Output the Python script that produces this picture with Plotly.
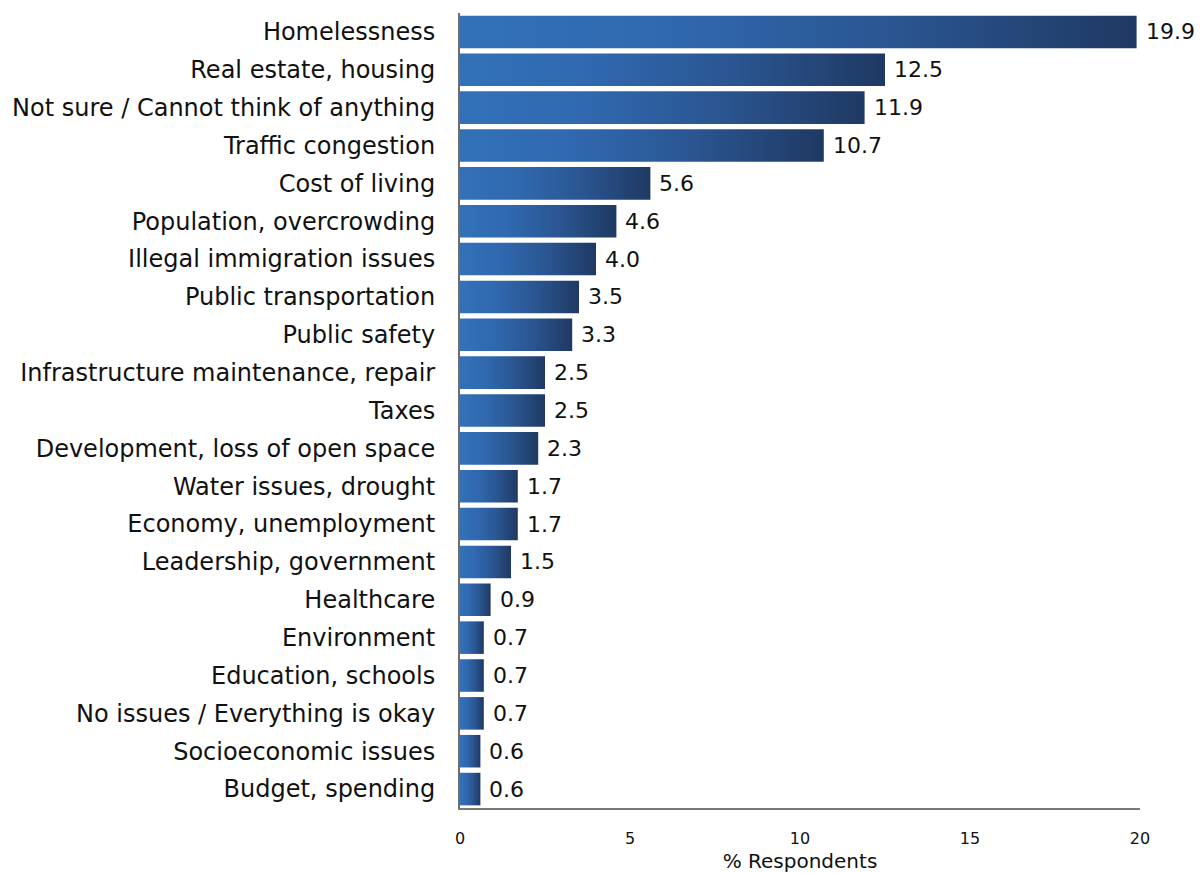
import plotly.graph_objects as go

# Survey: most important issue facing the community
categories = [
    "Homelessness",
    "Real estate, housing",
    "Not sure / Cannot think of anything",
    "Traffic congestion",
    "Cost of living",
    "Population, overcrowding",
    "Illegal immigration issues",
    "Public transportation",
    "Public safety",
    "Infrastructure maintenance, repair",
    "Taxes",
    "Development, loss of open space",
    "Water issues, drought",
    "Economy, unemployment",
    "Leadership, government",
    "Healthcare",
    "Environment",
    "Education, schools",
    "No issues / Everything is okay",
    "Socioeconomic issues",
    "Budget, spending",
]
percents = [19.9, 12.5, 11.9, 10.7, 5.6, 4.6, 4.0, 3.5, 3.3, 2.5, 2.5,
            2.3, 1.7, 1.7, 1.5, 0.9, 0.7, 0.7, 0.7, 0.6, 0.6]
x_ticks = [0, 5, 10, 15, 20]

FONT = "DejaVu Sans"
BAR_HALF = 0.43
gradient = [[0.0, "#3271b8"], [0.3, "#3069b0"], [0.65, "#2a5590"], [1.0, "#1f3963"]]

fig = go.Figure()

# each bar is a filled rectangle with a left-to-right gradient
for i, v in enumerate(percents):
    fig.add_trace(go.Scatter(
        x=[0, v, v, 0, 0],
        y=[i - BAR_HALF, i - BAR_HALF, i + BAR_HALF, i + BAR_HALF, i - BAR_HALF],
        mode="lines",
        line=dict(width=0, color="rgba(0,0,0,0)"),
        fill="toself",
        fillgradient=dict(type="horizontal", colorscale=gradient),
        hoverinfo="skip",
        showlegend=False,
    ))

# value labels just right of each bar end
for i, v in enumerate(percents):
    fig.add_annotation(
        x=v, y=i, xref="x", yref="y",
        text=f"{v:.1f}",
        showarrow=False,
        xanchor="left", yanchor="middle",
        xshift=7,
        font=dict(family=FONT, size=22, color="#111111"),
    )

fig.update_layout(
    width=1200,
    height=873,
    margin=dict(l=460, r=60, t=13, b=65),
    paper_bgcolor="white",
    plot_bgcolor="white",
    font=dict(family=FONT, color="#111111"),
)

fig.update_xaxes(
    range=[0, 20],
    tickvals=x_ticks,
    ticktext=[str(t) for t in x_ticks],
    tickfont=dict(family=FONT, size=16, color="#111111"),
    showgrid=False,
    zeroline=False,
    showline=True,
    linecolor="#7a7a7a",
    linewidth=2,
    ticks="",
    ticklabelstandoff=15,
    automargin=False,
    title=dict(text="% Respondents", font=dict(family=FONT, size=20)),
)

fig.update_yaxes(
    range=[len(categories) - 0.5, -0.5],
    tickvals=list(range(len(categories))),
    ticktext=categories,
    tickfont=dict(family=FONT, size=24, color="#111111"),
    showgrid=False,
    zeroline=False,
    showline=True,
    linecolor="#6e6e6e",
    linewidth=2,
    ticks="",
    ticklabelstandoff=18,
    automargin=False,
)

fig.write_html("out.html")
